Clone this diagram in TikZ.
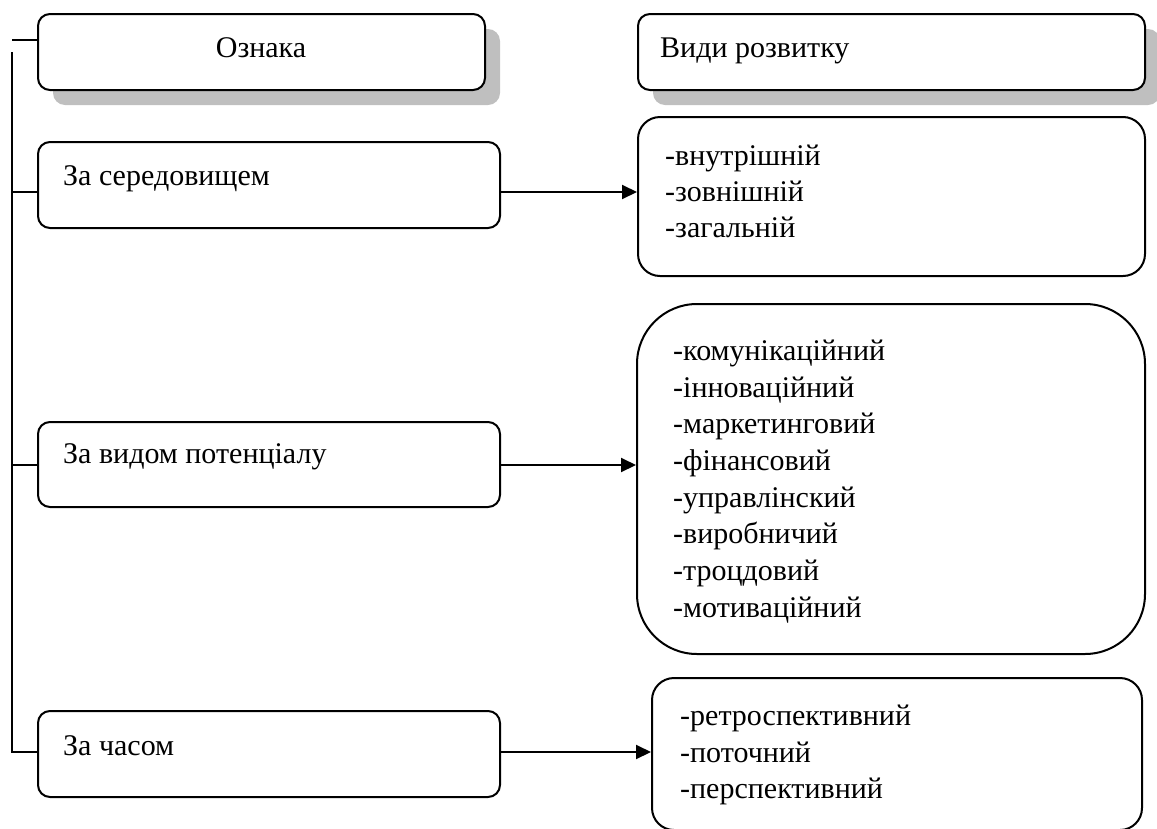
\documentclass[tikz,border=0pt]{standalone}
\usepackage{fontspec}
\setmainfont{Liberation Serif}
\usetikzlibrary{arrows.meta,shadows}
\begin{document}
\begin{tikzpicture}[x=1pt,y=-1pt,
  txt/.style={inner sep=0pt, anchor=base west, align=left, font=\fontsize{30}{36.6}\selectfont},
  box/.style={draw=black, line width=2pt, fill=white, rectangle, inner sep=0pt, rounded corners=12pt},
  shadowed/.style={drop shadow={shadow xshift=15pt, shadow yshift=-15pt, fill=black!25, opacity=1}},
  conn/.style={line width=2pt},
  arr/.style={line width=2pt, -{Triangle[length=15pt,width=14pt]}}
]
\useasboundingbox (0,0) rectangle (1157,828);

% header boxes
\node[box, shadowed, minimum width=447pt, minimum height=76pt] (oz) at (261.5,52) {};
\node[box, shadowed, minimum width=507pt, minimum height=76pt] (vydy) at (891.5,52) {};

% left boxes
\node[box, minimum width=462pt, minimum height=86pt] (ser) at (269,185) {};
\node[box, minimum width=462pt, minimum height=85pt] (pot) at (269,464.5) {};
\node[box, minimum width=462pt, minimum height=86pt] (chas) at (269,754) {};

% right boxes
\node[box, rounded corners=22pt, minimum width=507pt, minimum height=159pt] (vnut) at (891.5,196.5) {};
\node[box, rounded corners=60pt, minimum width=508pt, minimum height=350pt] (fin) at (891,479) {};
\node[box, rounded corners=22pt, minimum width=490pt, minimum height=152pt] (retro) at (897,754) {};

% texts
\node[txt, anchor=base] (tOz) at (261,57) {Ознака};
\node[txt] (tVydy) at (660,57) {Види розвитку};
\node[txt] (tSer) at (63,185) {За середовищем};
\node[txt] (tPot) at (63,463) {За видом потенціалу};
\node[txt] (tChas) at (63,755) {За часом};
\node[txt] (tV1) at (665,165) {-внутрішній};
\node[txt] (tV2) at (665,201) {-зовнішній};
\node[txt] (tV3) at (665,237) {-загальній};
\node[txt] (tF1) at (673,360) {-комунікаційний};
\node[txt] (tF2) at (673,397) {-інноваційний};
\node[txt] (tF3) at (673,433) {-маркетинговий};
\node[txt] (tF4) at (673,470) {-фінансовий};
\node[txt] (tF5) at (673,507) {-управлінский};
\node[txt] (tF6) at (673,543) {-виробничий};
\node[txt] (tF7) at (673,580) {-троцдовий};
\node[txt] (tF8) at (673,617) {-мотиваційний};
\node[txt] (tR1) at (680,725) {-ретроспективний};
\node[txt] (tR2) at (680,762) {-поточний};
\node[txt] (tR3) at (680,798) {-перспективний};

% connectors
\coordinate (top) at (12,40);
\coordinate (vtop) at (12,52);
\coordinate (ySer) at (12,192);
\coordinate (yPot) at (12,465);
\coordinate (yChas) at (12,752);

\draw[conn] (top) -- (oz.west |- top);
\draw[conn] (vtop) -- (yChas) -- (chas.west |- yChas);
\draw[conn] (ySer) -- (ser.west |- ySer);
\draw[conn] (yPot) -- (pot.west |- yPot);

\draw[arr] (ser.east |- ySer) -- (vnut.west |- ySer);
\draw[arr] (pot.east |- yPot) -- (fin.west |- yPot);
\draw[arr] (chas.east |- yChas) -- (retro.west |- yChas);
\end{tikzpicture}
\end{document}
